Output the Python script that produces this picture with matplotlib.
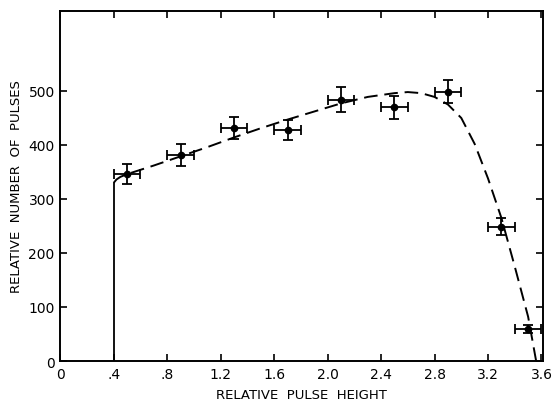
import matplotlib.pyplot as plt

plt.rcParams['font.family'] = ['DejaVu Sans']

# measured points
pulse_height = [0.5, 0.9, 1.3, 1.7, 2.1, 2.5, 2.9, 3.3, 3.5]
num_pulses = [346, 381, 431, 428, 484, 470, 499, 249, 59]
y_err = [19, 20, 20, 19, 23, 21, 22, 16, 7]
x_err = [0.1, 0.1, 0.1, 0.1, 0.1, 0.1, 0.1, 0.1, 0.1]

# fitted curve
curve_x = [0.4, 0.42, 0.45, 0.5, 0.7, 0.9, 1.1, 1.3, 1.5, 1.7, 1.9, 2.1, 2.3,
           2.5, 2.6, 2.7, 2.8, 2.9, 3.0, 3.1, 3.2, 3.3, 3.4, 3.5, 3.56]
curve_y = [330, 336, 341, 346, 362, 379, 396, 414, 431, 447, 462, 477, 489,
           496, 498, 496, 489, 475, 450, 402, 338, 265, 175, 82, 0]

cutoff_x = [0.4, 0.4]
cutoff_y = [0, 330]

x_ticks = [0, 0.4, 0.8, 1.2, 1.6, 2.0, 2.4, 2.8, 3.2, 3.6]
x_tick_labels = ['0', '.4', '.8', '1.2', '1.6', '2.0', '2.4', '2.8', '3.2', '3.6']
y_ticks = [0, 100, 200, 300, 400, 500]

fig = plt.figure(figsize=(5.58, 4.02), dpi=100)
ax = fig.add_axes([0.108, 0.0995, 0.866, 0.8705])

ax.plot(cutoff_x, cutoff_y, color='black', linewidth=1.3)
ax.plot(curve_x, curve_y, color='black', linewidth=1.4, dashes=(7, 3.5))
ax.errorbar(pulse_height, num_pulses, yerr=y_err, xerr=x_err, fmt='o',
            color='black', markersize=4.5, elinewidth=1.3, capsize=3.5,
            capthick=1.3)

ax.set_xlim(0, 3.615)
ax.set_ylim(0, 648)
ax.set_xticks(x_ticks)
ax.set_xticklabels(x_tick_labels)
ax.set_yticks(y_ticks)
ax.tick_params(direction='in', length=5, width=1.2, top=True, right=True,
               labelsize=10, pad=4)
for s in ax.spines.values():
    s.set_linewidth(1.4)

ax.set_xlabel('RELATIVE  PULSE  HEIGHT', fontsize=9.5, labelpad=5)
ax.set_ylabel('RELATIVE  NUMBER  OF  PULSES', fontsize=9.5, labelpad=4)

fig.savefig('out.png', dpi=100)
